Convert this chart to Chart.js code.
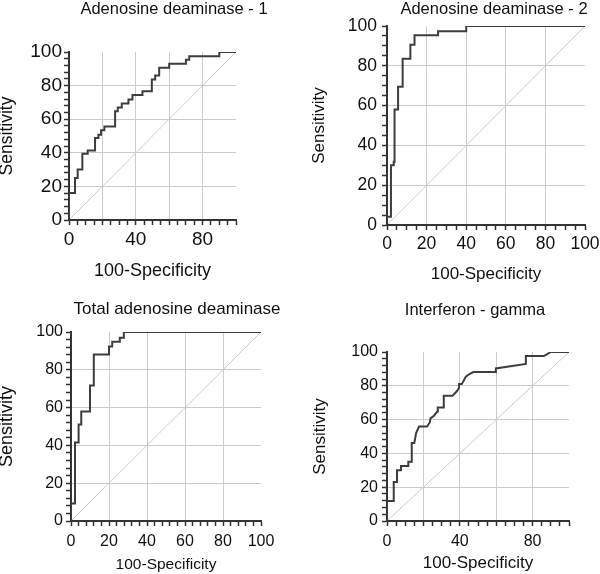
<!DOCTYPE html>
<html lang="en">
<head>
    <meta charset="UTF-8">
    <title>ROC curves</title>
    <script src="https://cdn.jsdelivr.net/npm/chart.js@4.4.0/dist/chart.umd.min.js"></script>
    <style>
        html, body {
            margin: 0;
            padding: 0;
            background: #fff;
            overflow: hidden;
        }

        body {
            position: relative;
            width: 600px;
            height: 574px;
        }

        .panel {
            position: absolute;
        }
    </style>
</head>
<body>
    <div class="panel"><canvas id="c1"></canvas></div>
    <div class="panel"><canvas id="c2"></canvas></div>
    <div class="panel"><canvas id="c3"></canvas></div>
    <div class="panel"><canvas id="c4"></canvas></div>

    <script>
        // ROC vertices: x = 100-Specificity, y = Sensitivity
        const fpr1 = [0, 0, 3.6, 3.6, 5.2, 5.2, 8, 8, 11.2, 11.2, 15.6, 15.6, 17.6, 17.6, 19.2, 19.2, 21.2, 21.2, 27.6, 27.6,
                      29.2, 29.2, 31.6, 31.6, 35.6, 35.6, 38, 38, 44, 44, 49.6, 49.6, 51.6, 51.6, 54, 54, 60, 60, 70, 70,
                      72, 72, 90, 90, 100];
        const tpr1 = [0, 16, 16, 25, 25, 30, 30, 39.4, 39.4, 41.4, 41.4, 48.8, 48.8, 50.8, 50.8, 53.4, 53.4, 55.6, 55.6, 64.8,
                      64.8, 67, 67, 69.4, 69.4, 71.8, 71.8, 74.4, 74.4, 76.6, 76.6, 83.6, 83.6, 86, 86, 90.6, 90.6, 93, 93, 95.4,
                      95.4, 97.4, 97.4, 100, 100];

        const fpr2 = [0, 0, 2, 2, 3.4, 3.4, 3.8, 3.8, 5.6, 5.6, 7.9, 7.9, 11.8, 11.8, 13.9, 13.9, 25.8, 25.8, 40, 40, 100];
        const tpr2 = [0, 4.2, 4.2, 30, 30, 31.8, 31.8, 58, 58, 69.5, 69.5, 83.5, 83.5, 90.6, 90.6, 95.4, 95.4, 97.3, 97.3, 100, 100];

        const fpr3 = [0, 0, 2.1, 2.1, 4, 4, 5.4, 5.4, 10, 10, 12, 12, 20, 20, 21.7, 21.7, 25.7, 25.7, 27.8, 27.8, 100];
        const tpr3 = [0, 9.3, 9.3, 41.6, 41.6, 51, 51, 58, 58, 71.7, 71.7, 88.1, 88.1, 92.3, 92.3, 94.9, 94.9, 97, 97, 100, 100];

        const fpr4 = [0, 0, 3.7, 3.7, 5.5, 5.5, 7.7, 7.7, 11.7, 11.7, 13.6, 13.6, 15, 16, 17.6, 22, 23.5, 23.9, 25.8, 27.5,
                      27.9, 31.2, 31.2, 36, 38.5, 39.6, 39.6, 41.1, 43.3, 45.1, 47.4, 59.8, 59.8, 76.3, 76.3, 86.2, 90, 100];
        const tpr4 = [0, 11.9, 11.9, 23.1, 23.1, 30, 30, 32.6, 32.6, 35, 35, 46.2, 46.2, 52, 55.9, 55.9, 58.3, 60.7, 62.3, 64.6,
                      67.2, 67.2, 74.1, 74.1, 76.9, 78.9, 81, 81, 85.4, 86.8, 88.1, 88.1, 90.3, 92.9, 97.6, 97.6, 100, 100];

        // chance line
        const diagX = [0, 100];
        const diagY = [0, 100];

        // tick labels and grid lines
        const fullLabels = [0, 20, 40, 60, 80, 100];
        const sparseLabels = [0, 40, 80];
        const gridValues = [20, 40, 60, 80];

        Chart.defaults.font.family = '"Liberation Sans", Arial, sans-serif';
        Chart.defaults.color = '#111';

        // panel title drawn at a fixed spot (the originals are not centred on the plot)
        const panelTitle = {
            id: 'panelTitle',
            afterDraw(chart, args, o) {
                const ctx = chart.ctx;
                ctx.save();
                ctx.font = o.size + 'px "Liberation Sans", Arial, sans-serif';
                ctx.fillStyle = '#111';
                ctx.textAlign = 'center';
                ctx.textBaseline = 'alphabetic';
                ctx.fillText(o.text, o.x, o.y);
                ctx.restore();
            }
        };

        // box / plot are [left, top, right, bottom] in page pixels
        const panels = [
            { id: 'c1', fpr: fpr1, tpr: tpr1, title: 'Adenosine deaminase - 1',
              box: [-3, 0, 300, 282], plot: [69, 52, 236, 220], titleAt: [174, 14], titleSize: 16.5,
              tickSize: 19, xTitleSize: 18, yTitleSize: 17.5, xStep: 5, yStep: 4, xLabels: sparseLabels, xPad: 3, yPad: 2 },
            { id: 'c2', fpr: fpr2, tpr: tpr2, title: 'Adenosine deaminase - 2',
              box: [309, 0, 605, 285], plot: [387, 26, 585, 225], titleAt: [494, 13.5], titleSize: 16.5,
              tickSize: 17.5, xTitleSize: 17, yTitleSize: 17, xStep: 5, yStep: 5, xLabels: fullLabels, xPad: 3.5, yPad: 5 },
            { id: 'c3', fpr: fpr3, tpr: tpr3, title: 'Total adenosine deaminase',
              box: [-4, 290, 300, 574], plot: [71, 332, 261, 521], titleAt: [177, 314], titleSize: 17,
              tickSize: 16, xTitleSize: 15.5, yTitleSize: 18, xStep: 4, yStep: 4, xLabels: fullLabels, xPad: 5.5, yPad: 3 },
            { id: 'c4', fpr: fpr4, tpr: tpr4, title: 'Interferon - gamma',
              box: [310, 290, 605, 574], plot: [387, 352, 569, 521], titleAt: [475, 315], titleSize: 16.5,
              tickSize: 16, xTitleSize: 17, yTitleSize: 17, xStep: 5, yStep: 4, xLabels: sparseLabels, xPad: 5.5, yPad: 4 }
        ];

        function axis(p, isX) {
            const [bl, , , bb] = p.box;
            const [pl, , , pb] = p.plot;
            const labels = isX ? p.xLabels : fullLabels;
            return {
                type: 'linear',
                position: isX ? 'bottom' : 'left',
                min: 0,
                max: 100,
                border: { color: '#333', width: 2 },
                grid: {
                    color: c => gridValues.includes(c.tick.value) ? '#cbcbcb' : 'rgba(0,0,0,0)',
                    lineWidth: 1,
                    tickColor: '#333',
                    tickLength: 5,
                    tickWidth: 1.5
                },
                ticks: {
                    stepSize: isX ? p.xStep : p.yStep,
                    autoSkip: false,
                    maxRotation: 0,
                    padding: isX ? p.xPad : p.yPad,
                    color: '#111',
                    font: { size: p.tickSize },
                    callback: v => labels.includes(v) ? String(v) : ''
                },
                title: {
                    display: true,
                    text: isX ? '100-Specificity' : 'Sensitivity',
                    color: '#111',
                    font: { size: isX ? p.xTitleSize : p.yTitleSize },
                    padding: 0
                },
                afterFit: s => {
                    if (isX) s.height = bb - pb;
                    else s.width = pl - bl;
                }
            };
        }

        panels.forEach(p => {
            const [bl, bt, br, bb] = p.box;
            const [, pt, pr] = p.plot;
            const canvas = document.getElementById(p.id);
            Object.assign(canvas.parentNode.style, {
                left: bl + 'px', top: bt + 'px', width: (br - bl) + 'px', height: (bb - bt) + 'px'
            });

            new Chart(canvas, {
                type: 'scatter',
                data: {
                    datasets: [
                        {
                            data: p.fpr.map((x, i) => ({ x: x, y: p.tpr[i] })),
                            showLine: true,
                            borderColor: '#3d3d3d',
                            borderWidth: 2,
                            pointRadius: 0
                        },
                        {
                            data: diagX.map((x, i) => ({ x: x, y: diagY[i] })),
                            showLine: true,
                            borderColor: '#cbcbcb',
                            borderWidth: 1,
                            pointRadius: 0
                        }
                    ]
                },
                options: {
                    responsive: true,
                    maintainAspectRatio: false,
                    animation: false,
                    layout: { padding: { left: 0, top: pt - bt, right: br - pr, bottom: 0 } },
                    plugins: {
                        legend: { display: false },
                        tooltip: { enabled: false },
                        panelTitle: { text: p.title, size: p.titleSize, x: p.titleAt[0] - bl, y: p.titleAt[1] - bt }
                    },
                    scales: {
                        x: axis(p, true),
                        y: axis(p, false)
                    }
                },
                plugins: [panelTitle]
            });
        });
    </script>
</body>
</html>
